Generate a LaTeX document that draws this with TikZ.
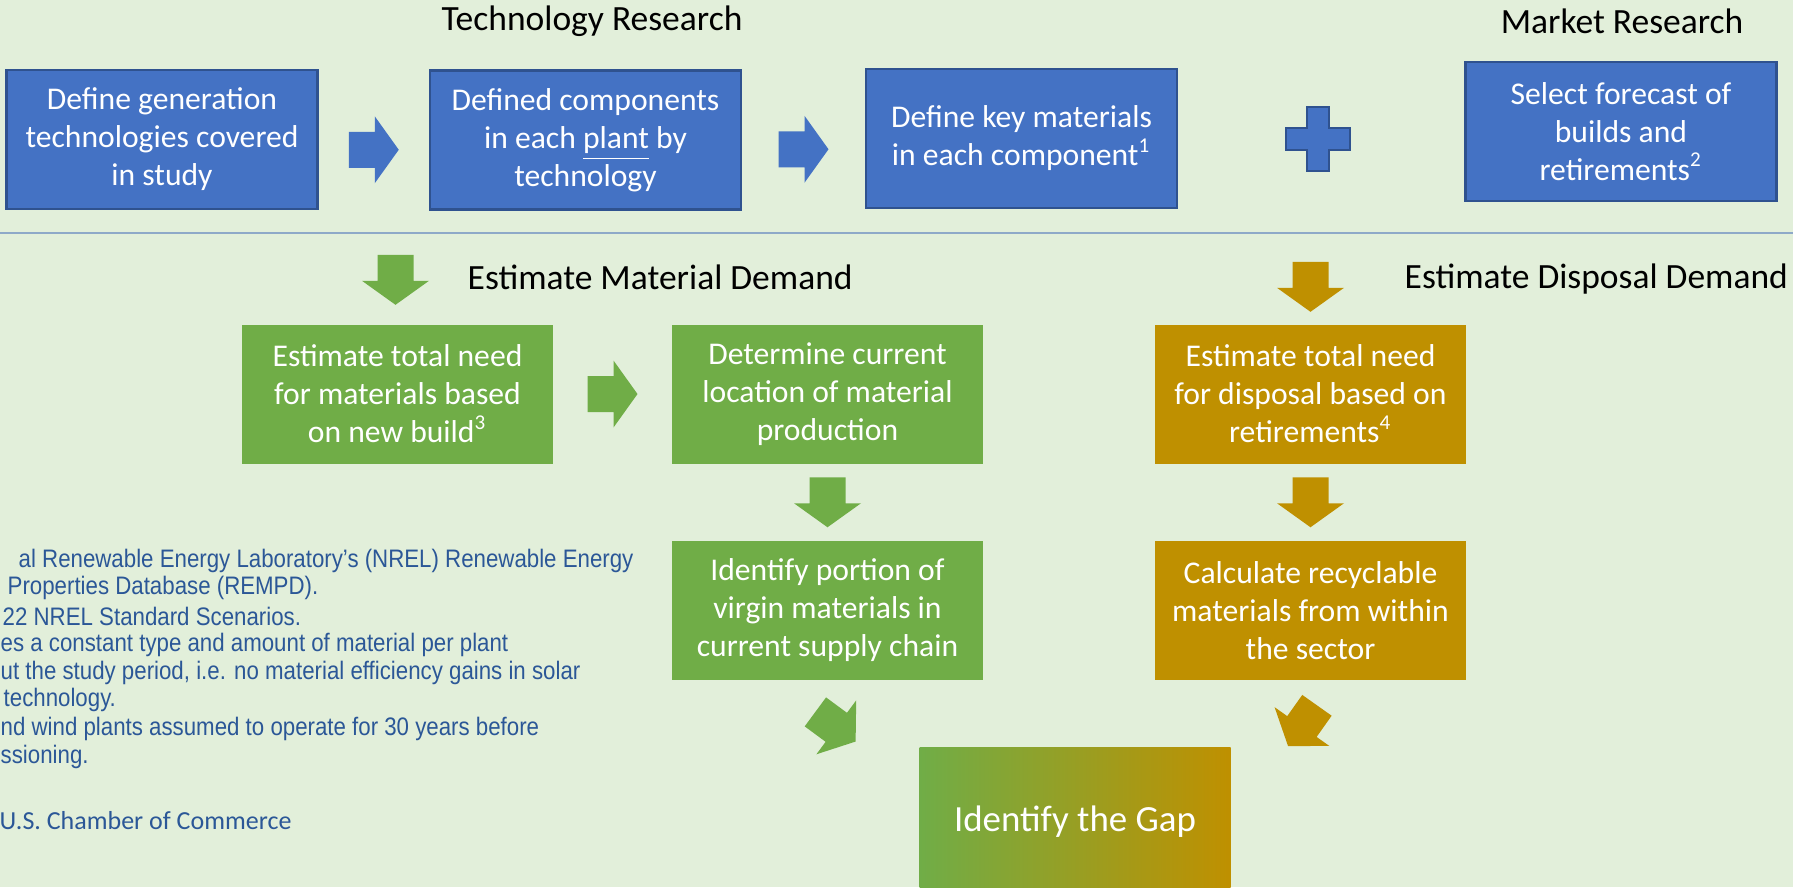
\documentclass[tikz,border=0pt]{standalone}
\usepackage{fontspec}
\setmainfont{Carlito}
\newfontfamily\notefont[FakeStretch=0.88]{Liberation Sans}
\usetikzlibrary{calc}

\definecolor{bg}{HTML}{E2EFDA}
\definecolor{blu}{HTML}{4472C4}
\definecolor{bluedge}{HTML}{2F528F}
\definecolor{grn}{HTML}{70AD47}
\definecolor{gld}{HTML}{BF9000}
\definecolor{notecol}{HTML}{2B5797}
\definecolor{rulecol}{HTML}{8EA9C8}

\begin{document}
\begin{tikzpicture}[x=0.1mm, y=-0.1mm,
    box/.style={minimum width=31.1mm, minimum height=13.9mm, inner sep=0pt,
                align=center, text=white, font=\fontsize{9}{10.8}\selectfont},
    tech/.style={box, fill=blu, draw=bluedge, line width=0.25mm},
    mat/.style={box, fill=grn},
    gldbox/.style={box, fill=gld},
    head/.style={inner sep=0pt, font=\fontsize{10.1}{12}\selectfont},
    note/.style={anchor=west, inner sep=0pt, text=notecol,
                 font=\notefont\fontsize{7.2}{8.6}\selectfont},
    barrow/.pic={\fill (-25,-18) -- (1,-18) -- (1,-33.5) -- (25,0)
                       -- (1,33.5) -- (1,18) -- (-25,18) -- cycle;}]

  \useasboundingbox (0,0) rectangle (1793,887);
  \clip (0,0) rectangle (1793,887);
  \fill[bg] (0,0) rectangle (1793,887);

  % research row
  \node[head] (tr) at (592,21) {Technology Research};
  \node[head] (mr) at (1622,21) {Market Research};

  \node[tech] (def) at (162,139.5) {Define generation\\technologies covered\\in study};
  \node[tech] (comp) at (585.5,140) {Defined components\\in each \underline{plant} by\\technology};
  \node[tech] (keym) at (1021.5,138.5) {Define key materials\\in each component\textsuperscript{1}};
  \node[tech] (fcst) at (1621,131.5) {Select forecast of\\builds and\\retirements\textsuperscript{2}};

  \pic[fill=blu] at ($(def.east)!.5!(comp.west)+(0,10)$) {barrow};
  \pic[fill=blu] at ($(comp.east)!.5!(keym.west)+(0,10)$) {barrow};

  \coordinate (plus) at ($(keym.east)!.5!(fcst.west)+(-3,4)$);
  \draw[fill=blu, draw=bluedge, line width=0.2mm, shift={(plus)}]
    (-11,-32) -- (11,-32) -- (11,-11) -- (32,-11) -- (32,11) -- (11,11)
    -- (11,32) -- (-11,32) -- (-11,11) -- (-32,11) -- (-32,-11) -- (-11,-11) -- cycle;

  \draw[rulecol, line width=0.2mm] (0,233) -- (1793,233);

  % demand rows
  \node[head, anchor=west] (emd) at (467,277) {Estimate Material Demand};
  \node[head, anchor=west] (edd) at (1404,279) {Estimate Disposal Demand};

  \node[mat] (need) at (397.5,394) {Estimate total need\\for materials based\\on new build\textsuperscript{3}};
  \node[mat] (loc) at (827.5,394) {Determine current\\location of material\\production};
  \node[gldbox] (dispo) at (1310.5,394) {Estimate total need\\for disposal based on\\retirements\textsuperscript{4}};
  \node[mat] (virg) at (827.5,610.5) {Identify portion of\\virgin materials in\\current supply chain};
  \node[gldbox] (recy) at (1310.5,610.5) {Calculate recyclable\\materials from within\\the sector};
  \node[box, minimum height=15mm, left color=grn, right color=gld,
        font=\fontsize{10.5}{12}\selectfont] (gap) at (1075,822) {Identify the Gap};

  \pic[fill=grn, rotate=-90] at ($(need.north)+(-2,-44)$) {barrow};
  \pic[fill=gld, rotate=-90] at ($(dispo.north)+(0,-37)$) {barrow};
  \pic[fill=grn] at ($(need.east)!.5!(loc.west)$) {barrow};
  \pic[fill=grn, rotate=-90] at ($(loc.south)!.5!(virg.north)$) {barrow};
  \pic[fill=gld, rotate=-90] at ($(dispo.south)!.5!(recy.north)$) {barrow};
  \pic[fill=grn, rotate=-36.4] at ($(virg.south)+(8,46)$) {barrow};
  \pic[fill=gld, rotate=-125.3] at ($(recy.south)+(-8,45)$) {barrow};

  % notes
  \foreach \y/\x/\t [count=\i] in {
      561/18/{al Renewable Energy Laboratory’s (NREL) Renewable Energy},
      588/7/{Properties Database (REMPD).},
      616/2/{22 NREL Standard Scenarios.},
      645/0/{es a constant type and amount of material per plant},
      673/0/{ut the study period, i.e. no material efficiency gains in solar},
      700/3/{technology.},
      729/0/{nd wind plants assumed to operate for 30 years before},
      757/0/{ssioning.}}
    \node[note] (fn\i) at (\x,\y) {\t};
  \node[note, font=\fontsize{7.4}{9}\selectfont] (src) at (-1,821) {U.S. Chamber of Commerce};
\end{tikzpicture}
\end{document}
